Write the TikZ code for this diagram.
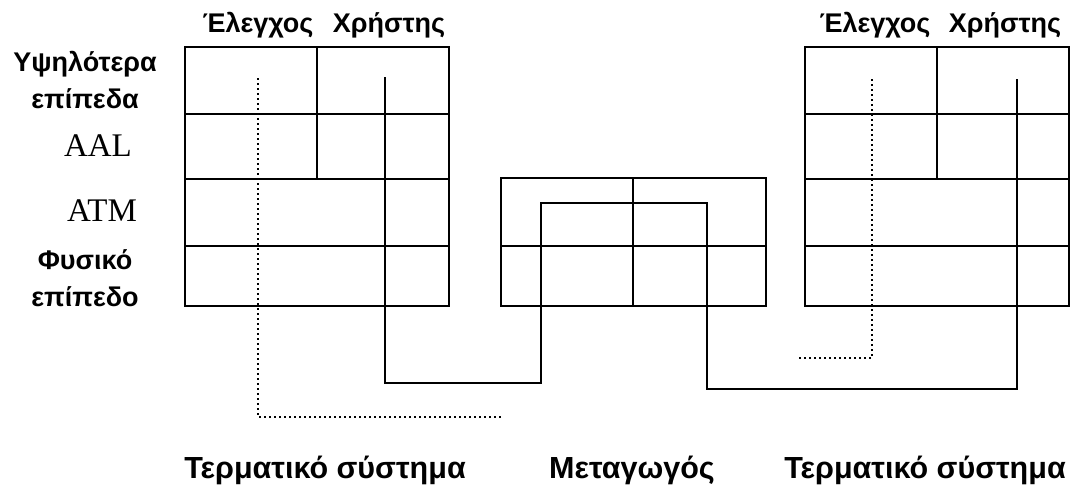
\documentclass[tikz,border=0pt]{standalone}
\usepackage{fontspec}
\setmainfont{Liberation Sans}
\newfontfamily\latserif{Liberation Serif}
\begin{document}
\begin{tikzpicture}[x=1pt,y=-1pt,
  gridline/.style={draw, line width=2.2pt, line join=miter},
  usr/.style={draw, line width=2.2pt, line join=miter},
  ctl/.style={draw, line width=2pt, dash pattern=on 2pt off 3pt},
  grk/.style={font=\fontsize{27}{37}\selectfont\bfseries, inner sep=0pt, align=center},
  lat/.style={font=\latserif\fontsize{33}{36}\selectfont, inner sep=0pt},
  bot/.style={font=\fontsize{30.5}{32}\selectfont\bfseries, inner sep=0pt}]
\useasboundingbox (0,0) rectangle (1089,490);
% left end system
\draw[gridline] (185,47) rectangle (449,306);
\draw[gridline] (185,114) -- (449,114) (185,179) -- (449,179) (185,246) -- (449,246) (317,47) -- (317,179);
% switch
\draw[gridline] (501,178) rectangle (766,306);
\draw[gridline] (501,246) -- (766,246) (633,178) -- (633,306);
% right end system
\draw[gridline] (805,47) rectangle (1069,306);
\draw[gridline] (805,114) -- (1069,114) (805,179) -- (1069,179) (805,246) -- (1069,246) (937,47) -- (937,179);
% connector coordinates
\coordinate (uA) at (385,77);
\coordinate (uB) at (385,383);
\coordinate (uC) at (541,383);
\coordinate (uD) at (541,203);
\coordinate (uE) at (707,203);
\coordinate (uF) at (707,389);
\coordinate (uG) at (1017,389);
\coordinate (uH) at (1017,79);
\coordinate (cA) at (258,78);
\coordinate (cB) at (258,417);
\coordinate (cC) at (503,417);
\coordinate (dA) at (872,79);
\coordinate (dB) at (872,358);
\coordinate (dC) at (797,358);
\draw[usr] (uA) -- (uB) -- (uC) -- (uD) -- (uE) -- (uF) -- (uG) -- (uH);
\draw[ctl] (cA) -- (cB) -- (cC);
\draw[ctl] (dA) -- (dB) -- (dC);
% headers
\node[grk] (h1) at (258,25) {Έλεγχος};
\node[grk] (h2) at (389,25) {Χρήστης};
\node[grk] (h3) at (875,25) {Έλεγχος};
\node[grk] (h4) at (1005,25) {Χρήστης};
% layer labels
\node[grk] (l1) at (85,80) {Υψηλότερα\\επίπεδα};
\node[lat] (l2) at (98,146) {AAL};
\node[lat] (l3) at (102,211) {ATM};
\node[grk] (l4) at (85,278) {Φυσικό\\επίπεδο};
% bottom labels
\node[bot] (b1) at (325,470) {Τερματικό σύστημα};
\node[bot] (b2) at (632,470) {Μεταγωγός};
\node[bot] (b3) at (925,470) {Τερματικό σύστημα};
\end{tikzpicture}
\end{document}
